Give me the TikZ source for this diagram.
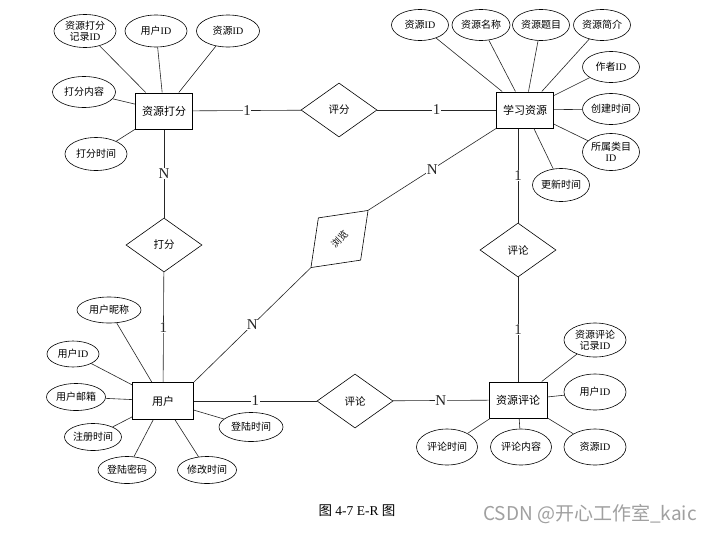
\documentclass[tikz,border=0pt]{standalone}
\usepackage{fontspec}
\setmainfont{Liberation Serif}
\newfontfamily\cjk{Noto Sans CJK SC}
\usetikzlibrary{shapes.geometric}
\definecolor{wmgray}{RGB}{160,160,160}
\begin{document}
\begin{tikzpicture}[x=1pt,y=-1pt,
  ent/.style={draw, line width=1pt, minimum width=57pt, minimum height=36pt, inner sep=1pt, font=\cjk\fontsize{11}{13}\selectfont},
  attr/.style={draw, ellipse, line width=0.6pt, inner sep=0pt, align=center, font=\cjk\fontsize{10}{11.5}\selectfont},
  rel/.style={draw, diamond, aspect=1.4, line width=0.6pt, inner sep=0pt, minimum width=76pt, minimum height=54pt, font=\cjk\fontsize{10.5}{12}\selectfont},
  conn/.style={line width=0.6pt, black!85},
  lbl/.style={fill=white, inner sep=0.5pt, font=\fontsize{15}{15}\selectfont}
]
\useasboundingbox[fill=white] (0,0) rectangle (714,533);

% entities
\node[ent] (r1) at (164,111) {资源打分};
\node[ent] (r2) at (525,110) {学习资源};
\node[ent, minimum width=61pt, minimum height=37pt] (r3) at (163,401) {用户};
\node[ent, minimum width=58pt] (r4) at (518,400) {资源评论};

% relations
\node[rel] (d1) at (339,110) {评分};
\node[rel] (d2) at (164,245) {打分};
\node[rel] (d3) at (518,250) {评论};
\node[rel] (d4) at (355,401) {评论};
\node[rel, minimum width=81pt, minimum height=60pt, rotate=45, font=\cjk\fontsize{9.5}{11}\selectfont] (d5) at (339.5,239) {浏览};

% attributes of 资源打分
\node[attr, minimum width=62pt, minimum height=33pt] (a1) at (85,31) {资源打分\\记录{\rmfamily ID}};
\node[attr, minimum width=62pt, minimum height=32pt] (a2) at (156,31) {用户{\rmfamily ID}};
\node[attr, minimum width=63pt, minimum height=32pt] (a3) at (228,31) {资源{\rmfamily ID}};
\node[attr, minimum width=63pt, minimum height=31pt] (a4) at (84,92) {打分内容};
\node[attr, minimum width=62pt, minimum height=33pt] (a5) at (96,154) {打分时间};

% attributes of 学习资源
\node[attr, minimum width=57pt, minimum height=31pt] (b1) at (420,25) {资源{\rmfamily ID}};
\node[attr, minimum width=58pt, minimum height=31pt] (b2) at (481,25) {资源名称};
\node[attr, minimum width=57pt, minimum height=31pt] (b3) at (541,25) {资源题目};
\node[attr, minimum width=57pt, minimum height=31pt] (b4) at (602,25) {资源简介};
\node[attr, minimum width=57pt, minimum height=31pt] (b5) at (611,67) {作者{\rmfamily ID}};
\node[attr, minimum width=57pt, minimum height=31pt] (b6) at (611,109) {创建时间};
\node[attr, minimum width=57pt, minimum height=37pt] (b7) at (611,152) {所属类目\\{\rmfamily ID}};
\node[attr, minimum width=57pt, minimum height=33pt] (b8) at (561,185) {更新时间};

% attributes of 用户
\node[attr, minimum width=64pt, minimum height=26pt] (c1) at (109,310) {用户昵称};
\node[attr, minimum width=52pt, minimum height=26pt] (c2) at (73,354) {用户{\rmfamily ID}};
\node[attr, minimum width=59pt, minimum height=27pt] (c3) at (76,397) {用户邮箱};
\node[attr, minimum width=57pt, minimum height=27pt] (c4) at (93,437) {注册时间};
\node[attr, minimum width=58pt, minimum height=27pt] (c5) at (127,470) {登陆密码};
\node[attr, minimum width=59pt, minimum height=27pt] (c6) at (207,470) {修改时间};
\node[attr, minimum width=64pt, minimum height=29pt] (c7) at (251,427) {登陆时间};

% attributes of 资源评论
\node[attr, minimum width=62pt, minimum height=34pt] (e1) at (595,340) {资源评论\\记录{\rmfamily ID}};
\node[attr, minimum width=62pt, minimum height=36pt] (e2) at (595,392) {用户{\rmfamily ID}};
\node[attr, minimum width=62pt, minimum height=36pt] (e3) at (595,447) {资源{\rmfamily ID}};
\node[attr, minimum width=61pt, minimum height=36pt] (e4) at (521,447) {评论内容};
\node[attr, minimum width=61pt, minimum height=36pt] (e5) at (447,447) {评论时间};

% attribute connectors
\foreach \a in {a1,a2,a3,a4,a5} \draw[conn] (\a) -- (r1);
\foreach \a in {b1,b2,b3,b4,b5,b6,b7,b8} \draw[conn] (\a) -- (r2);
\foreach \a in {c1,c2,c3,c4,c5,c6,c7} \draw[conn] (\a) -- (r3);
\foreach \a in {e1,e2,e3,e4,e5} \draw[conn] (\a) -- (r4);

% relationship connectors
\draw[conn] (r1) -- node[lbl]{1} (d1);
\draw[conn] (d1) -- node[lbl]{1} (r2);
\draw[conn] (r1) -- node[lbl]{N} (d2);
\draw[conn] (d2) -- node[lbl]{1} (r3);
\draw[conn] (r2.south west) -- node[lbl]{N} (d5.east);
\draw[conn] (d5.west) -- node[lbl]{N} (r3.north east);
\draw[conn] (d3.north |- r2.south) -- node[lbl]{1} (d3.north);
\draw[conn] (d3) -- node[lbl]{1} (r4);
\draw[conn] (r3) -- node[lbl]{1} (d4);
\draw[conn] (d4) -- node[lbl]{N} (r4);

% caption and watermark
\node[font=\fontsize{13.5}{15}\selectfont] (cap) at (357,511) {{\cjk 图} 4-7 E-R {\cjk 图}};
\node[font=\cjk\fontsize{19}{21}\selectfont, text=wmgray] (wm) at (590,514) {CSDN @开心工作室\_kaic};
\end{tikzpicture}
\end{document}
